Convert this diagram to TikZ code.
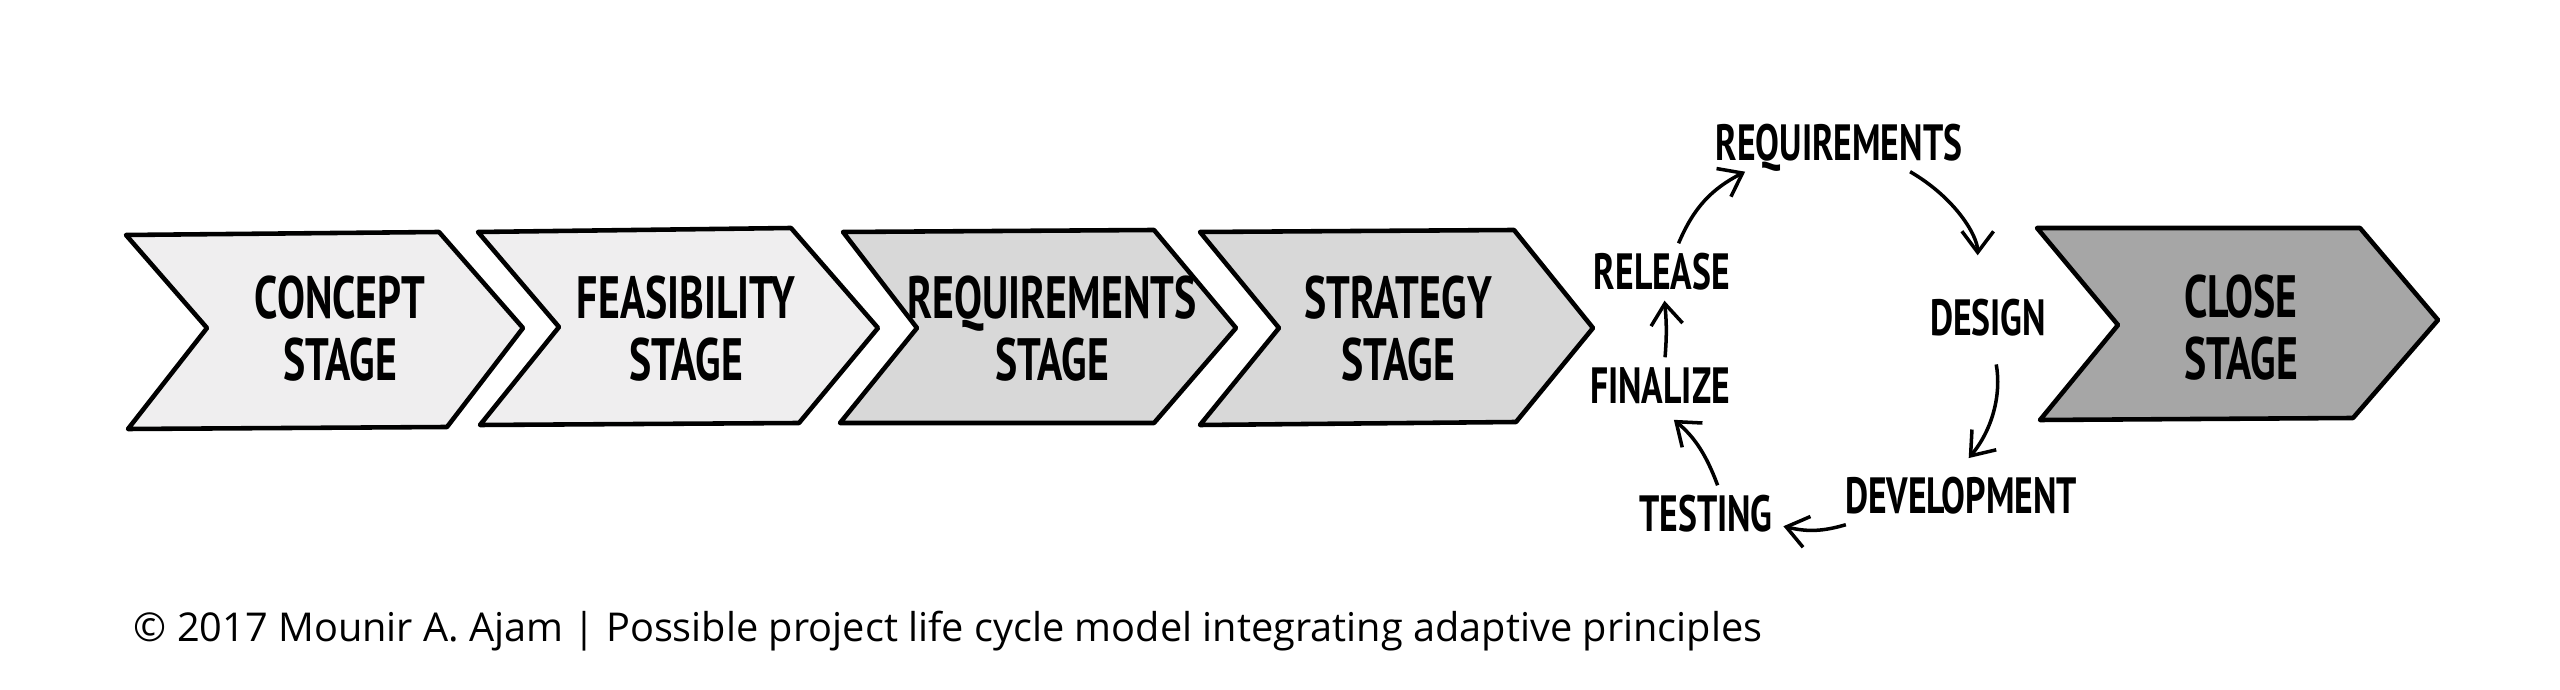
\documentclass[tikz,border=0pt]{standalone}
\usepackage{fontspec}
\usepackage{tikz}
\usetikzlibrary{arrows.meta}
\newfontfamily\handfont[FakeStretch=0.70]{PT Sans Bold}
\newfontfamily\notefont{Open Sans}
\definecolor{stagelight}{HTML}{EFEEEF}
\definecolor{stagemid}{HTML}{D8D8D8}
\definecolor{stagedark}{HTML}{A6A6A6}
\tikzset{
  stage/.style={
    draw=black,
    line width=1.3pt,
    line join=round
  },
  stage label/.style={
    font=\handfont\fontsize{17}{17.6}\selectfont,
    align=center,
    inner sep=0pt
  },
  step label/.style={
    font=\handfont\fontsize{14.5}{15}\selectfont,
    inner sep=0.1cm,
    text height=0.36cm,
    text depth=0pt
  },
  cycle arrow/.style={
    -{Straight Barb[length=6pt, width=9pt]},
    line width=1pt
  }
}
\begin{document}
\begin{tikzpicture}
    \useasboundingbox (0,0) rectangle (25.6,6.9);

    % stages (chevrons)
    \draw[stage, fill=stagelight] (1.26,4.55) -- (4.39,4.58) -- (5.23,3.62) -- (4.47,2.63) -- (1.28,2.61) -- (2.07,3.62) -- cycle;
    \draw[stage, fill=stagelight] (4.78,4.58) -- (7.91,4.62) -- (8.78,3.62) -- (7.99,2.67) -- (4.80,2.65) -- (5.59,3.63) -- cycle;
    \draw[stage, fill=stagemid] (8.43,4.58) -- (11.54,4.60) -- (12.36,3.62) -- (11.54,2.67) -- (8.40,2.67) -- (9.17,3.62) -- cycle;
    \draw[stage, fill=stagemid] (12.00,4.58) -- (15.14,4.60) -- (15.93,3.62) -- (15.16,2.68) -- (12.00,2.65) -- (12.79,3.62) -- cycle;
    \draw[stage, fill=stagedark] (20.37,4.62) -- (23.60,4.62) -- (24.38,3.70) -- (23.53,2.72) -- (20.40,2.70) -- (21.18,3.65) -- cycle;

    \node[stage label] (concept) at (3.40,3.61) {CONCEPT\\STAGE};
    \node[stage label] (feasible) at (6.86,3.61) {FEASIBILITY\\STAGE};
    \node[stage label] (reqstage) at (10.52,3.61) {REQUIREMENTS\\STAGE};
    \node[stage label] (strategy) at (13.98,3.61) {STRATEGY\\STAGE};
    \node[stage label] (close) at (22.41,3.62) {CLOSE\\STAGE};

    % adaptive cycle
    \node[step label] (req) at (18.39,5.47) {REQUIREMENTS};
    \node[step label] (design) at (19.88,3.72) {DESIGN};
    \node[step label] (dev) at (19.61,1.94) {DEVELOPMENT};
    \node[step label] (testing) at (17.06,1.76) {TESTING};
    \node[step label] (finalize) at (16.60,3.04) {FINALIZE};
    \node[step label] (release) at (16.62,4.18) {RELEASE};

    \draw[cycle arrow] (release.60) to[bend left=20] (req.-163);
    \draw[cycle arrow, shorten >=3.4mm] (req.-22) to[bend left=30] (design.110);
    \draw[cycle arrow, shorten <=1.8mm, shorten >=1.2mm] (design.-80) to[bend left=25] (dev.north);
    \draw[cycle arrow] (dev.-166) to[bend left=15] (testing.-9);
    \draw[cycle arrow, shorten >=0.8mm] (testing.68) to[bend right=15] (finalize.-75);
    \draw[cycle arrow] (finalize.80) to[bend right=5] (release.-85);

    % caption
    \node[anchor=base west, inner sep=0pt, font=\notefont\fontsize{11.3}{13}\selectfont] (note) at (1.33,0.48)
      {© 2017 Mounir A. Ajam | Possible project life cycle model integrating adaptive principles};

\end{tikzpicture}
\end{document}
